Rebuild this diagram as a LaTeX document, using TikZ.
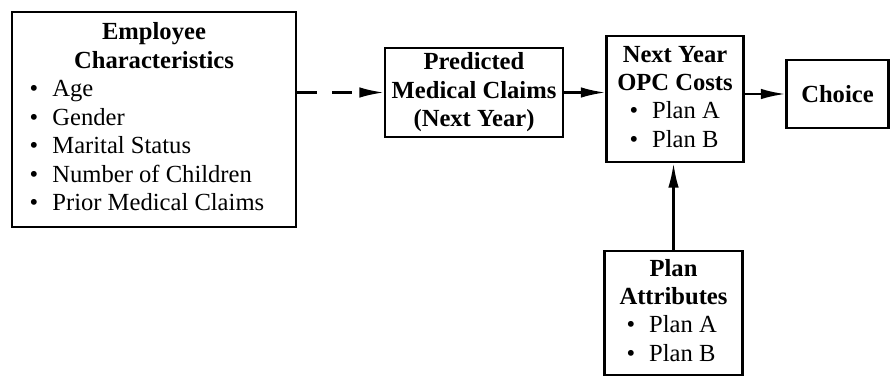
\documentclass[tikz,border=0pt]{standalone}
\usepackage{fontspec}
\setmainfont{Liberation Serif}
\usetikzlibrary{arrows.meta}

\newcommand{\itm}[1]{\textbullet\hspace{8pt}#1}

\tikzset{
  box/.style={draw, line width=1.3pt, inner sep=0pt, align=center, font=\fontsize{14}{16.2}\selectfont},
  flow/.style={line width=1.3pt, -{Latex[length=14pt,width=6pt]}}
}

\begin{document}
\begin{tikzpicture}[x=0.02cm,y=-0.02cm]
  \useasboundingbox (0,0) rectangle (891,379);

  \node[box, minimum width=5.68cm, minimum height=4.30cm] (emp) at (154,119.5) {\begin{tabular}{@{}l@{\hspace{8pt}}}
      \multicolumn{1}{c}{\textbf{Employee}}\\
      \multicolumn{1}{c}{\textbf{Characteristics}}\\
      \itm{Age}\\ \itm{Gender}\\ \itm{Marital Status}\\ \itm{Number of Children}\\ \itm{Prior Medical Claims}
    \end{tabular}};

  \node[box, minimum width=3.56cm, minimum height=1.78cm] (pred) at (474,92.5) {\textbf{Predicted}\\ \textbf{Medical Claims}\\ \textbf{(Next Year)}};

  \node[box, minimum width=2.74cm, minimum height=2.52cm] (opc) at (675,99) {\begin{tabular}{@{}l@{}}
      \multicolumn{1}{c}{\textbf{Next Year}}\\
      \multicolumn{1}{c}{\textbf{OPC Costs}}\\
      \hspace{13pt}\itm{Plan A}\\ \hspace{13pt}\itm{Plan B}
    \end{tabular}};

  \node[box, minimum width=2.04cm, minimum height=1.36cm] (choice) at (837.5,94) {\textbf{Choice}};

  \node[box, minimum width=2.76cm, minimum height=2.48cm] (attr) at (673.5,313) {\begin{tabular}{@{}l@{}}
      \multicolumn{1}{c}{\textbf{Plan}}\\
      \multicolumn{1}{c}{\textbf{Attributes}}\\
      \hspace{10pt}\itm{Plan A}\\ \hspace{10pt}\itm{Plan B}
    \end{tabular}};

  \draw [flow, dash pattern=on 0.4cm off 0.3cm] (emp.east |- pred.west) -- (pred.west);
  \draw [flow] (pred.east) -- (pred.east -| opc.west);
  \draw [flow] (opc.east |- choice.west) -- (choice.west);
  \draw [flow] (attr.north) -- (attr.north |- opc.south);

\end{tikzpicture}
\end{document}
